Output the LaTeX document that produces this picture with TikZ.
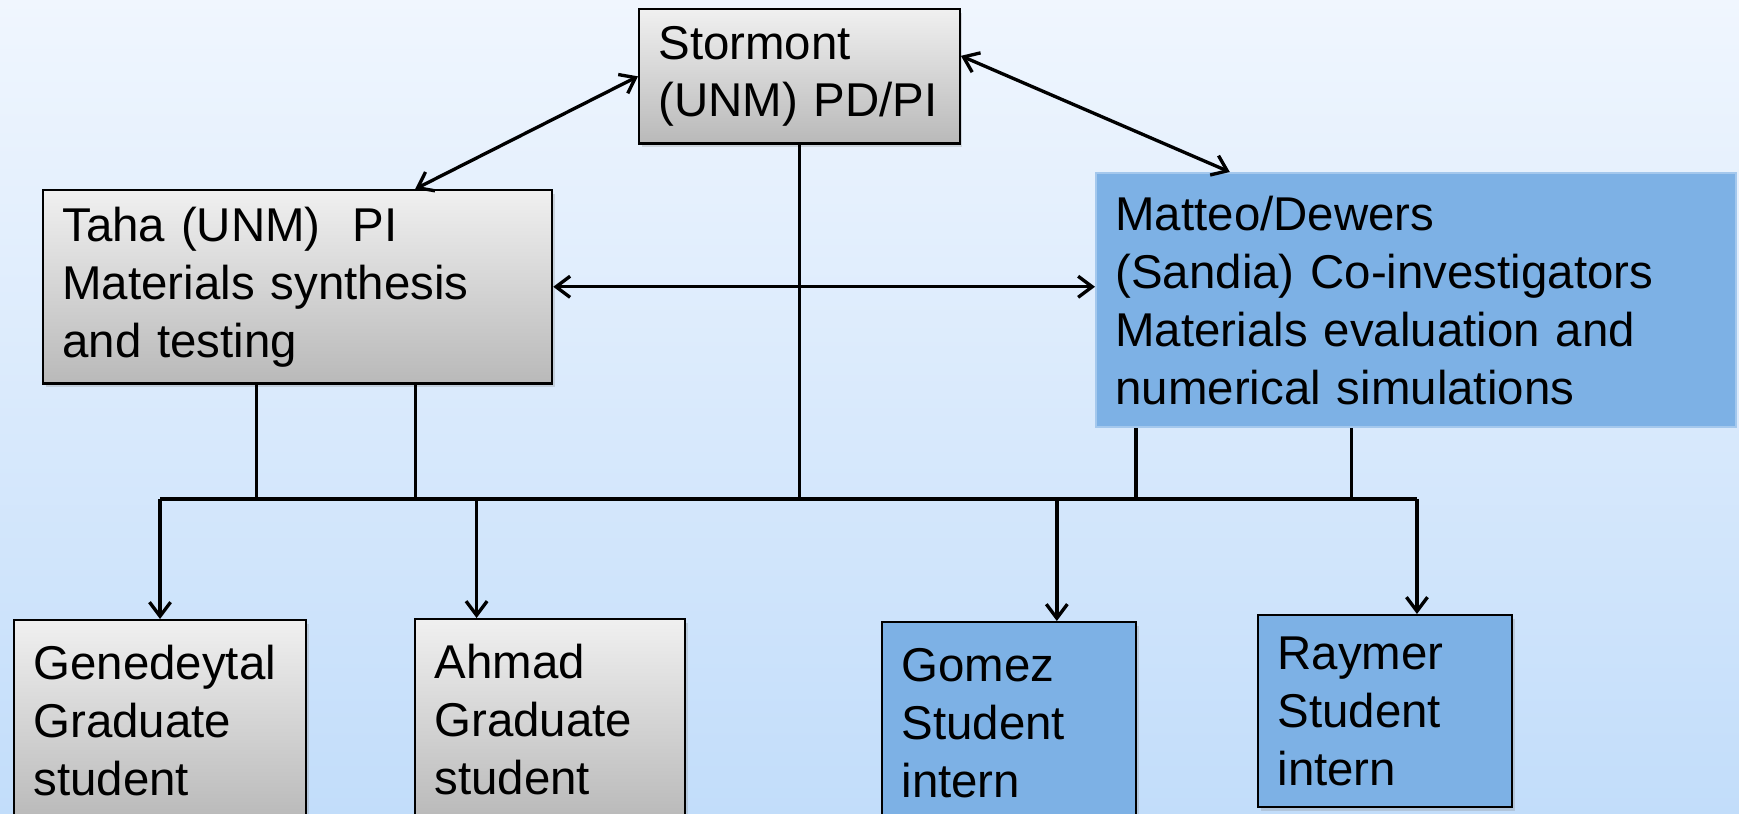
\documentclass[tikz,border=0pt]{standalone}
\usepackage{fontspec}
\setmainfont{Liberation Sans}
\usetikzlibrary{arrows.meta,positioning,calc,shadows}
\definecolor{bgtop}{HTML}{F0F6FE}
\definecolor{bgbot}{HTML}{C2DDFA}
\definecolor{ltgrey}{HTML}{F0F0F0}
\definecolor{dkgrey}{HTML}{B9B9B9}
\definecolor{skyblue}{HTML}{7DB1E5}
\tikzset{
  box/.style={rectangle, draw=black, line width=1.3pt, align=left, anchor=north west,
              inner xsep=11pt, inner ysep=0pt, font=\fontsize{27}{33}\selectfont},
  shadowed/.style={drop shadow={opacity=0.25, shadow xshift=1.5pt, shadow yshift=-2pt}},
  greybox/.style={box, shadowed, top color=ltgrey, bottom color=dkgrey},
  bluebox/.style={box, shadowed, fill=skyblue},
  leadbox/.style={box, fill=skyblue, draw=skyblue!70!white},
  link/.style={draw=black, line width=1.9pt},
  flow/.style={link, -{Straight Barb[length=8pt,width=12pt]}},
  twoway/.style={link, {Straight Barb[length=8pt,width=12pt]}-{Straight Barb[length=8pt,width=12pt]}}
}

\begin{document}
\begin{tikzpicture}[x=0.02cm, y=-0.02cm]
  \shade[top color=bgtop, bottom color=bgbot] (0,0) rectangle (1739,814);
  \useasboundingbox (0,0) rectangle (1739,814);
  % leads
  \node[greybox, text width=160.5pt, minimum height=76.5pt] (stormont) at (638,8) {Stormont\\(UNM) PD/PI};
  \node[greybox, text width=267.7pt, minimum height=110pt] (taha) at (42,189) {Taha (UNM)\ \ PI\\Materials synthesis\\and testing};
  \node[leadbox, text width=342pt, minimum height=144.6pt] (matteo) at (1095,172) {Matteo/Dewers\\(Sandia) Co-investigators\\Materials evaluation and\\numerical simulations};
  % students
  \node[greybox, text width=144.1pt, minimum height=114.5pt] (gene) at (13,619) {Genedeytal\\Graduate\\student};
  \node[greybox, text width=131.6pt, minimum height=114.5pt] (ahmad) at (414,618) {Ahmad\\Graduate\\student};
  \node[bluebox, text width=122.6pt, minimum height=114.5pt] (gomez) at (881,621) {Gomez\\Student\\intern};
  \node[bluebox, text width=122.6pt, minimum height=109.4pt] (raymer) at (1257,614) {Raymer\\Student\\intern};
  % links
  \coordinate (bus) at (0,499);
  \foreach \f/\n in {0.42/t1,0.73/t2} \coordinate (\n) at ($(taha.south west)!\f!(taha.south east)$);
  \foreach \f/\n in {0.064/m1,0.40/m2} \coordinate (\n) at ($(matteo.south west)!\f!(matteo.south east)$);
  \coordinate (a1) at ($(ahmad.north west)!0.23!(ahmad.north east)$);
  \coordinate (g1) at ($(gomez.north west)!0.686!(gomez.north east)$);
  \coordinate (r1) at ($(raymer.north west)!0.624!(raymer.north east)$);
  \draw[twoway] (stormont.west) -- ($(taha.north west)!0.73!(taha.north east)$);
  \draw[twoway] ($(stormont.north east)!0.35!(stormont.south east)$) -- ($(matteo.north west)!0.21!(matteo.north east)$);
  \draw[twoway] (taha.east) -- (taha.east -| matteo.west);
  \draw[link] (stormont.south) -- (stormont.south |- bus);
  \foreach \n in {t1,t2,m1,m2} \draw[link] (\n) -- (\n |- bus);
  \draw[link] (gene.north |- bus) -- (r1 |- bus);
  \draw[flow] (gene.north |- bus) -- (gene.north);
  \foreach \n in {a1,g1,r1} \draw[flow] (\n |- bus) -- (\n);
\end{tikzpicture}
\end{document}
